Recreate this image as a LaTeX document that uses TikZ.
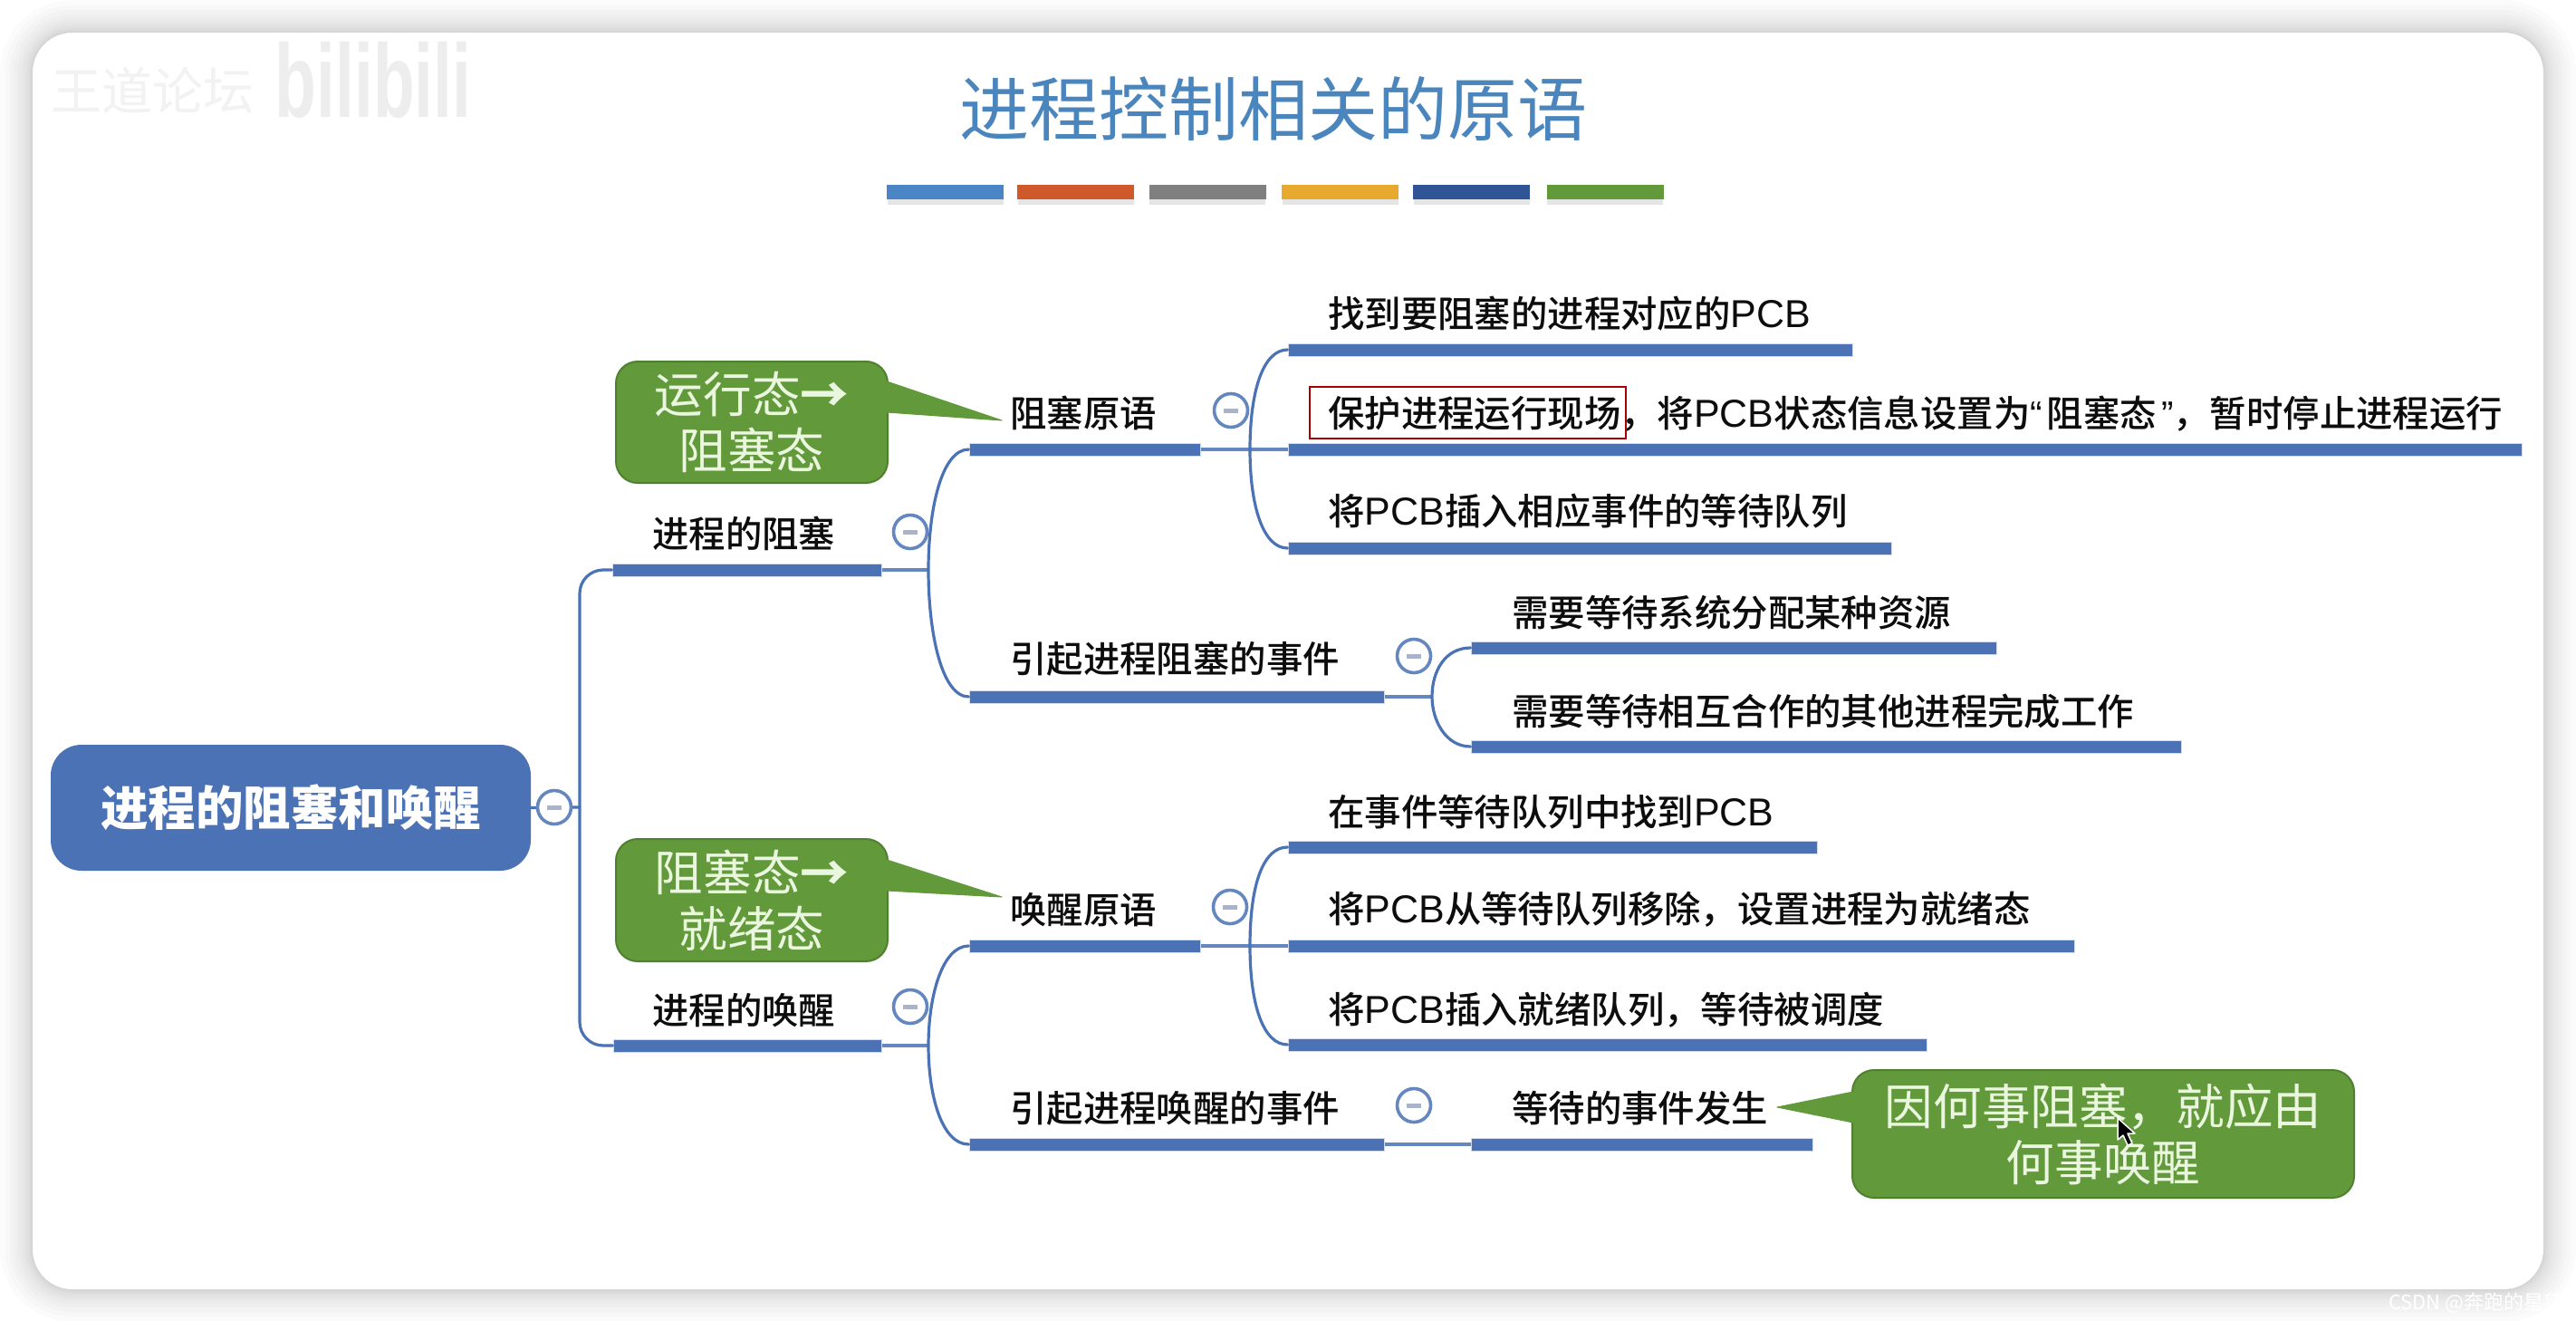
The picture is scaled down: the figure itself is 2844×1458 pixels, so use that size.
\documentclass[tikz,border=0pt]{standalone}
\usepackage{fontspec}
\setmainfont{Noto Sans CJK SC}
\newfontfamily\med{Noto Sans CJK SC Medium}
\newfontfamily\lat{Liberation Sans}
\usetikzlibrary{calc}
\definecolor{mblue}{HTML}{4A72B5}
\definecolor{mgreen}{HTML}{629A3B}
\definecolor{mgreenb}{HTML}{4F8030}
\definecolor{calltext}{HTML}{EAF6DE}
\definecolor{titleblue}{HTML}{4A86BD}
\definecolor{dashgray}{HTML}{A9B4CC}
\newcommand{\PCB}{{\lat\fontsize{43}{43}\selectfont PCB}}
\tikzset{
  x=1pt,y=-1pt,
  topictext/.style={anchor=west,inner sep=0pt,text=black!95,font=\med\fontsize{40.4}{40.4}\selectfont},
  underl/.style={fill=mblue,inner sep=0pt,minimum height=14pt,draw=mblue!25,line width=1pt},
  link/.style={draw=mblue,line width=3.2pt,line cap=round},
  linkpale/.style={draw=mblue!85,line width=3.6pt},
  coll/.style={circle,draw=mblue!85,line width=3.6pt,fill=white,inner sep=0pt,minimum size=37pt},
  colldash/.style={draw=dashgray,line width=5pt},
  bar/.style={inner sep=0pt,minimum height=16pt,minimum width=129pt,draw=none},
  callbox/.style={rectangle,rounded corners=24pt,fill=mgreen,draw=mgreenb,line width=2pt,text=calltext,align=center,inner sep=0pt,font=\fontsize{53.6}{62}\selectfont},
  tipshape/.style={fill=mgreen,draw=mgreen,line width=1pt,line join=round},
}
\newcommand{\UL}[4]{\node[underl,minimum width=#3-#2] (#1) at ({(#2+#3)/2},#4) {};}
\newcommand{\CO}[3]{\node[coll] (#1) at (#2,#3) {};
  \draw[colldash] ([xshift=-8pt]#1.center) -- ([xshift=8pt]#1.center);}
\begin{document}
\begin{tikzpicture}
\useasboundingbox (0,0) rectangle (2844,1458);
\fill[white] (0,0) rectangle (2844,1458);
% card shadow
\foreach \s in {0,...,12}{
  \pgfmathsetmacro{\d}{\s*\s/4}
  \fill[black,opacity=0.016,rounded corners={44+\d}]
    (36-\d,36-\d) rectangle (2808+\d,1423+\d);
}
\fill[white,rounded corners=44pt] (36,36) rectangle (2808,1423);
% watermarks
\node[inner sep=0pt,text=black!5,font=\fontsize{56}{56}\selectfont] (wmA) at (168,100) {王道论坛};
\node[inner sep=0pt,text=black!7,font=\bfseries\lat\fontsize{100}{100}\selectfont,xscale=0.75,yscale=1.15] (wmB) at (412,88) {bilibili};
\node[inner sep=0pt,anchor=west,text=white,font=\fontsize{22}{22}\selectfont] (wmC) at (2637,1438) {CSDN @奔跑的星黛};
% title
\node[inner sep=0pt,text=titleblue,font=\fontsize{77}{77}\selectfont] (title) at (1406,120) {进程控制相关的原语};
% colour bars
\foreach \xa/\c in {1043.5/4A86C5,1187.5/D0592B,1333/808080,1479.5/E8A92F,1624.5/2F5597,1772/629A3B}{
  \definecolor{barc}{HTML}{\c}
  \fill[black,opacity=0.10] (\xa-64,216) rectangle (\xa+64,226);
  \node[bar,fill=barc] at (\xa,212) {};
}
% root
\node[rectangle,rounded corners=34pt,fill=mblue,inner sep=0pt,minimum width=530pt,minimum height=139pt,text=white,font=\bfseries\fontsize{52.5}{52.5}\selectfont] (root) at (321,891.5) {进程的阻塞和唤醒};
% underlines
\UL{uA}{676}{973}{629}
\UL{uB}{677}{973}{1154}
\UL{uC}{1070}{1325}{496}
\UL{uD}{1070}{1528}{769}
\UL{uE}{1070}{1325}{1044}
\UL{uF}{1070}{1528}{1263}
\UL{uG}{1422}{2045}{386}
\UL{uH}{1422}{2784}{496}
\UL{uI}{1422}{2088}{605}
\UL{uJ}{1624}{2204}{715}
\UL{uK}{1624}{2408}{824}
\UL{uL}{1422}{2006}{935}
\UL{uM}{1422}{2290}{1044}
\UL{uN}{1422}{2127}{1153}
\UL{uO}{1624}{2001}{1263}
% branch points
\coordinate (bRoot) at (640,891);
\coordinate (bA) at (1025,629);
\coordinate (bB) at (1025,1154);
\coordinate (bC) at (1380,496);
\coordinate (bD) at (1581,769);
\coordinate (bE) at (1380,1044);
% connectors
\draw[link] (root.east) -- (bRoot);
\draw[link,rounded corners=26pt] (uA.west) -- (bRoot|-uA.west) -- (bRoot|-uB.west) -- (uB.west);
\draw[linkpale] (uA.east) -- (bA);
\draw[linkpale] (uB.east) -- (bB);
\draw[link] (uC.west) .. controls (1040,496) and (1025,560) .. (bA) .. controls (1025,700) and (1040,769) .. (uD.west);
\draw[link] (uE.west) .. controls (1040,1044) and (1025,1100) .. (bB) .. controls (1025,1210) and (1040,1263) .. (uF.west);
\draw[linkpale] (uC.east) -- (bC) -- (uH.west);
\draw[link] (uG.west) .. controls (1395,386) and (1380,430) .. (bC) .. controls (1380,560) and (1395,605) .. (uI.west);
\draw[linkpale] (uD.east) -- (bD);
\draw[link] (uJ.west) .. controls (1596,715) and (1581,740) .. (bD) .. controls (1581,795) and (1596,824) .. (uK.west);
\draw[linkpale] (uE.east) -- (bE) -- (uM.west);
\draw[link] (uL.west) .. controls (1395,935) and (1380,975) .. (bE) .. controls (1380,1110) and (1395,1153) .. (uN.west);
\draw[linkpale] (uF.east) -- (uO.west);
% collapse marks
\CO{cRoot}{612}{891}
\CO{cA}{1005}{587}
\CO{cB}{1005}{1111}
\CO{cC}{1359}{453}
\CO{cD}{1561}{724}
\CO{cE}{1358}{1001}
\CO{cF}{1561}{1220}
% labels
\node[topictext] (tA) at (720,589) {进程的阻塞};
\node[topictext] (tB) at (720,1115) {进程的唤醒};
\node[topictext] (tC) at (1115,456) {阻塞原语};
\node[topictext] (tD) at (1115,727) {引起进程阻塞的事件};
\node[topictext] (tE) at (1115,1004) {唤醒原语};
\node[topictext] (tF) at (1115,1223) {引起进程唤醒的事件};
\node[topictext] (tG) at (1466,346) {找到要阻塞的进程对应的\PCB};
\node[topictext] (tH) at (1466,457) {保护进程运行现场，将\PCB 状态信息设置为{\lat “}\kern5pt 阻塞态\kern5pt{\lat ”}，暂时停止进程运行};
\node[topictext] (tI) at (1466,564) {将\PCB 插入相应事件的等待队列};
\node[topictext] (tJ) at (1669,676) {需要等待系统分配某种资源};
\node[topictext] (tK) at (1669,785) {需要等待相互合作的其他进程完成工作};
\node[topictext] (tL) at (1466,896) {在事件等待队列中找到\PCB};
\node[topictext] (tM) at (1466,1004) {将\PCB 从等待队列移除，设置进程为就绪态};
\node[topictext] (tN) at (1466,1115) {将\PCB 插入就绪队列，等待被调度};
\node[topictext] (tO) at (1669,1223) {等待的事件发生};
% red emphasis box
\draw[draw=red!65!black,line width=2pt] (1446,427) rectangle (1795,484);
% callouts
\node[callbox,minimum width=300pt,minimum height=134pt] (nA) at (830,466) {运行态{\bfseries →}\\阻塞态};
\node[callbox,minimum width=300pt,minimum height=135pt] (nB) at (830,993.5) {阻塞态{\bfseries →}\\就绪态};
\node[callbox,minimum width=554pt,minimum height=141pt] (nC) at (2322,1251.5) {因何事阻塞，就应由\\何事唤醒};
\coordinate (tipA) at (1106,464);
\coordinate (tipB) at (1106,990);
\coordinate (tipC) at (1962,1222);
\filldraw[tipshape] (979,421) -- (tipA) -- (979,455) -- cycle;
\filldraw[tipshape] (979,949) -- (tipB) -- (979,983) -- cycle;
\filldraw[tipshape] (2046,1205) -- (tipC) -- (2046,1239) -- cycle;
% mouse pointer
\filldraw[fill=black,draw=white,line width=1.5pt,line join=round] (2338,1234) -- (2338,1258) -- (2344,1253) -- (2349,1264) -- (2354,1262) -- (2349,1251) -- (2357,1251) -- cycle;
\end{tikzpicture}
\end{document}
